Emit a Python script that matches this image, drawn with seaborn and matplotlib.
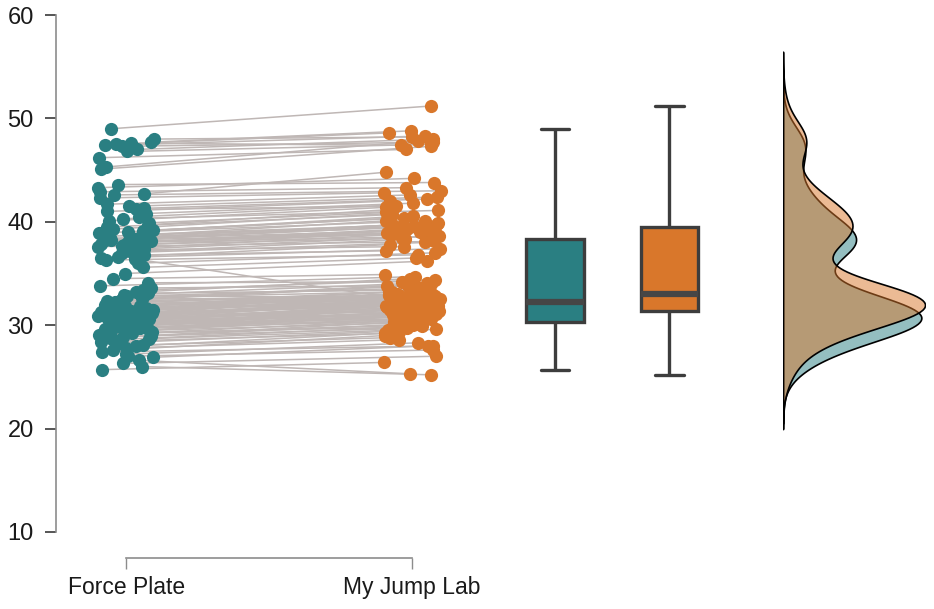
import numpy as np
import seaborn as sns
import matplotlib.pyplot as plt
from matplotlib.collections import LineCollection

# paired jump heights (cm), same order in both lists
fp = [
    25.7, 26.0, 26.3, 26.6, 26.9, 27.0, 27.2, 27.4, 27.6, 27.8,
    28.0, 28.1, 28.3, 28.4, 28.6, 28.7, 28.8, 28.9, 29.0, 29.1,
    29.2, 29.3, 29.4, 29.4, 29.5, 29.6, 29.6, 29.7, 29.7, 29.8,
    29.8, 29.9, 29.9, 30.0, 30.0, 30.0, 30.1, 30.1, 30.2, 30.2,
    30.3, 30.3, 30.4, 30.4, 30.5, 30.5, 30.5, 30.6, 30.6, 30.7,
    30.7, 30.8, 30.8, 30.8, 30.9, 30.9, 31.0, 31.0, 31.1, 31.1,
    31.2, 31.2, 31.3, 31.3, 31.4, 31.4, 31.5, 31.5, 31.6, 31.6,
    31.7, 31.7, 31.8, 31.8, 31.9, 31.9, 32.0, 32.0, 32.1, 32.2,
    32.3, 32.4, 32.5, 32.6, 32.7, 32.8, 32.9, 33.0, 33.1, 33.2,
    33.4, 33.6, 33.8, 34.1, 34.5, 35.0, 35.6, 36.0, 36.3, 36.4,
    36.5, 36.6, 36.8, 37.0, 37.1, 37.3, 37.4, 37.5, 37.6, 37.7,
    37.8, 37.9, 38.0, 38.0, 38.1, 38.1, 38.2, 38.2, 38.3, 38.3,
    38.4, 38.5, 38.6, 38.7, 38.8, 38.9, 39.0, 39.1, 39.2, 39.3,
    39.5, 39.7, 39.9, 40.1, 40.3, 40.5, 40.8, 41.0, 41.2, 41.3,
    41.5, 41.7, 42.3, 42.6, 42.7, 42.9, 43.3, 43.6, 45.1, 45.3,
    46.2, 46.8, 47.0, 47.3, 47.4, 47.5, 47.6, 47.7, 48.0, 49.0,
]
mjl = [
    26.4, 25.2, 27.0, 25.3, 28.0, 27.6, 28.3, 28.0, 29.0, 28.6,
    29.3, 28.8, 29.6, 29.2, 29.9, 29.5, 30.1, 29.7, 30.3, 30.0,
    30.5, 29.8, 30.7, 31.0, 30.2, 30.8, 31.3, 30.4, 31.1, 30.6,
    31.5, 30.9, 31.2, 30.8, 31.6, 31.0, 31.4, 30.6, 31.7, 31.2,
    31.3, 31.8, 31.0, 31.9, 31.5, 32.0, 31.1, 32.1, 31.6, 32.2,
    31.4, 32.3, 31.7, 32.4, 31.9, 32.5, 32.0, 32.6, 32.2, 32.8,
    32.1, 32.8, 32.3, 32.9, 32.5, 33.0, 32.6, 32.9, 32.4, 33.1,
    32.2, 33.0, 32.7, 33.2, 32.5, 33.1, 32.8, 32.6, 33.3, 32.9,
    33.0, 33.8, 32.8, 34.0, 33.2, 33.6, 32.6, 34.1, 33.4, 34.5,
    34.4, 33.8, 34.7, 34.2, 34.9, 36.2, 36.5, 37.0, 36.8, 32.5,
    37.4, 37.8, 37.2, 38.0, 38.3, 37.6, 38.6, 38.8, 38.1, 39.0,
    38.4, 38.9, 39.1, 38.6, 39.3, 38.8, 39.5, 39.0, 39.7, 39.2,
    39.4, 39.9, 39.6, 40.1, 39.8, 40.4, 40.1, 40.6, 40.3, 40.8,
    40.7, 41.2, 40.9, 41.4, 41.1, 41.6, 41.8, 42.0, 41.5, 42.2,
    42.4, 42.6, 42.8, 43.0, 44.8, 43.3, 44.2, 43.8, 47.3, 47.8,
    47.0, 47.5, 48.0, 47.7, 48.3, 48.6, 47.4, 48.8, 48.2, 51.2,
]
labels = ["Force Plate", "My Jump Lab"]
yticks = [10, 20, 30, 40, 50, 60]

teal = "#2a7f82"
orange = "#d9772b"

sns.set_style("ticks")
plt.rcParams["font.family"] = ["Liberation Sans", "DejaVu Sans"]

np.random.seed(7)
n = len(fp)

fig = plt.figure(figsize=(9.34, 6.09), dpi=100)
ax = fig.add_axes([56 / 934, 1 - 532 / 609, 878 / 934, 517 / 609])

# jittered points
sns.stripplot(x=np.zeros(n), y=fp, native_scale=True, orient="x", jitter=0.1,
              color=teal, size=9.5, linewidth=0, ax=ax, zorder=3)
sns.stripplot(x=np.ones(n), y=mjl, native_scale=True, orient="x", jitter=0.1,
              color=orange, size=9.5, linewidth=0, ax=ax, zorder=3)

# connect the pairs
p0 = ax.collections[0].get_offsets()
p1 = ax.collections[1].get_offsets()
segs = [[a, b] for a, b in zip(p0, p1)]
ax.add_collection(LineCollection(segs, colors="#bfb7b5", linewidths=1.1, zorder=1))

# boxes
box_kw = dict(native_scale=True, orient="x", width=0.2, saturation=1,
              linecolor="#3d3d3d", linewidth=2.4, fliersize=0,
              medianprops=dict(linewidth=4.5, color="#464646"), ax=ax)
sns.boxplot(x=np.full(n, 1.5), y=fp, color=teal, **box_kw)
sns.boxplot(x=np.full(n, 1.9), y=mjl, color=orange, **box_kw)

ax.set_xlim(-0.245, 2.825)
ax.set_ylim(10, 60)
ax.set_yticks(yticks)
ax.set_xticks([0, 1], labels)
ax.set_xlabel("")
ax.set_ylabel("")
sns.despine(ax=ax)
ax.spines["bottom"].set_position(("outward", 19))
ax.spines["bottom"].set_bounds(0, 1)
for s in ["left", "bottom"]:
    ax.spines[s].set_color("#8c8c8c")
    ax.spines[s].set_linewidth(1.2)
ax.tick_params(axis="y", direction="out", length=8, width=1.4, color="#555555",
               labelsize=17, pad=8, labelcolor="#1a1a1a")
ax.tick_params(axis="x", direction="out", length=8, width=1, color="#8c8c8c",
               labelsize=16.5, pad=5, labelcolor="#1a1a1a")

# half densities on the right
ax2 = fig.add_axes([783 / 934, 1 - 532 / 609, 142 / 934, 517 / 609], sharey=ax)
sns.kdeplot(y=fp, fill=True, color=teal, alpha=0.5, edgecolor="black",
            linewidth=1.2, bw_adjust=0.85, cut=3, ax=ax2)
sns.kdeplot(y=mjl, fill=True, color=orange, alpha=0.5, edgecolor="black",
            linewidth=1.2, bw_adjust=0.85, cut=3, ax=ax2)
ax2.set_xlim(0, ax2.dataLim.x1)
ax2.axis("off")

fig.savefig("out.png", dpi=100)
